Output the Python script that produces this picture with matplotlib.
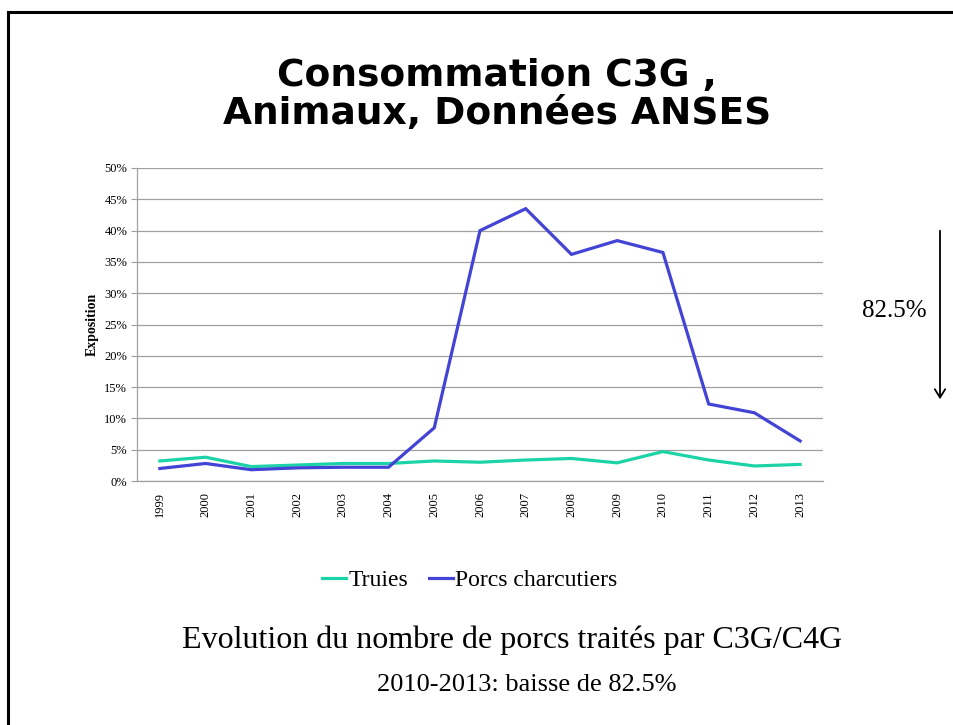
import matplotlib
matplotlib.use("Agg")
import matplotlib.pyplot as plt
from matplotlib.ticker import PercentFormatter, MultipleLocator

years = ["1999", "2000", "2001", "2002", "2003", "2004", "2005", "2006",
         "2007", "2008", "2009", "2010", "2011", "2012", "2013"]
truies = [3.2, 3.8, 2.3, 2.55, 2.8, 2.8, 3.2, 3.0, 3.35, 3.6, 2.9, 4.7, 3.35, 2.4, 2.65]
porcs = [2.0, 2.8, 1.8, 2.1, 2.2, 2.2, 8.5, 40.0, 43.5, 36.2, 38.4, 36.5, 12.3, 10.9, 6.4]

title_lines = "Consommation C3G ,\nAnimaux, Données ANSES"
caption = "Evolution du nombre de porcs traités par C3G/C4G"
subcaption = "2010-2013: baisse de 82.5%"
drop_label = "82.5%"

TEAL = "#1CD3A8"
BLUE = "#4343D6"
SERIF = ["Liberation Serif", "DejaVu Serif"]

W, H = 954, 725
fig = plt.figure(figsize=(W / 100, H / 100), dpi=100)
fig.patch.set_facecolor("white")

# slide frame (top and left edges visible)
fig.add_artist(plt.Line2D([8 / W, 8 / W], [0, 1 - 12 / H], transform=fig.transFigure,
                          color="black", lw=2.2))
fig.add_artist(plt.Line2D([8 / W, 1], [1 - 12 / H, 1 - 12 / H], transform=fig.transFigure,
                          color="black", lw=2.2))

fig.text(497 / W, 1 - 95 / H, title_lines, ha="center", va="center",
         fontsize=27, fontweight="bold", family="DejaVu Sans", linespacing=1.05)

ax = fig.add_axes([137 / W, 1 - 481 / H, 686 / W, 313 / H])
x = list(range(len(years)))
ax.plot(x, truies, color=TEAL, lw=2.3, label="Truies", solid_joinstyle="miter")
ax.plot(x, porcs, color=BLUE, lw=2.3, label="Porcs charcutiers", solid_joinstyle="miter")
ax.set_xlim(-0.5, len(years) - 0.5)
ax.set_ylim(0, 50)
ax.yaxis.set_major_locator(MultipleLocator(5))
ax.yaxis.set_major_formatter(PercentFormatter(decimals=0))
ax.set_xticks(x)
ax.set_xticklabels(years, rotation=90, family=SERIF, fontsize=9)
for lab in ax.get_yticklabels():
    lab.set_family(SERIF)
    lab.set_fontsize(9)
ax.tick_params(axis="x", length=0, pad=8)
ax.tick_params(axis="y", length=4, color="#A0A0A0", pad=3)
ax.grid(axis="y", color="#A0A0A0", lw=0.9)
ax.set_axisbelow(True)
for s in ["top", "right"]:
    ax.spines[s].set_visible(False)
for s in ["left", "bottom"]:
    ax.spines[s].set_color("#A0A0A0")
    ax.spines[s].set_linewidth(0.9)
ax.set_ylabel("Exposition", family=SERIF, fontweight="bold", fontsize=10, labelpad=4)

leg = fig.legend(loc="center", bbox_to_anchor=(470 / W, 1 - 580 / H), ncol=2,
                 frameon=False, prop={"family": SERIF, "size": 17},
                 handlelength=1.0, handletextpad=0.1, columnspacing=0.9)

fig.text(512 / W, 1 - 640 / H, caption, ha="center", va="center",
         family=SERIF, fontsize=23)
fig.text(527 / W, 1 - 685 / H, subcaption, ha="center", va="center",
         family=SERIF, fontsize=19)

fig.text(894 / W, 1 - 311 / H, drop_label, ha="center", va="center",
         family=SERIF, fontsize=18)
fig.add_artist(matplotlib.patches.FancyArrowPatch(
    (940 / W, 1 - 228 / H), (940 / W, 1 - 402 / H), transform=fig.transFigure,
    arrowstyle="->,head_length=4,head_width=2.5", color="black", lw=1.3,
    mutation_scale=1.5))

fig.savefig("out.png", dpi=100, facecolor="white")
